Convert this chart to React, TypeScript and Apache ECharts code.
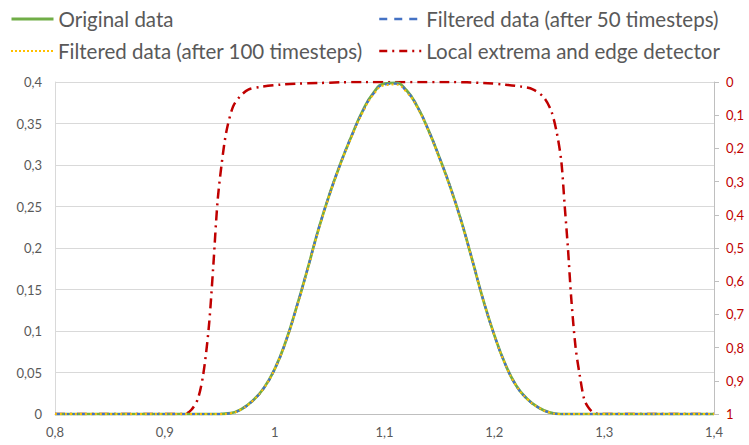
import React, { useEffect, useRef } from "react";
import * as echarts from "echarts";

// x positions shared by the three "bump" series
const bumpX = [
  0.8, 0.85, 0.9, 0.95, 0.96, 0.97, 0.98, 0.99, 1.0, 1.01, 1.02, 1.03, 1.04, 1.05, 1.06, 1.07, 1.08, 1.09,
  1.1, 1.11, 1.12, 1.13, 1.14, 1.15, 1.16, 1.17, 1.18, 1.19, 1.2, 1.21, 1.22, 1.23, 1.24, 1.25, 1.26,
  1.3, 1.35, 1.4,
];
const originalData = [
  0, 0, 0, 0, 0.001, 0.006, 0.016, 0.031, 0.054, 0.087, 0.129, 0.175, 0.223, 0.265, 0.302, 0.335, 0.365, 0.387,
  0.398, 0.399, 0.39, 0.37, 0.342, 0.309, 0.273, 0.232, 0.185, 0.137, 0.095, 0.06, 0.034, 0.018, 0.008, 0.002, 0,
  0, 0, 0,
];
const filtered50 = [
  0, 0, 0, 0, 0.001, 0.006, 0.016, 0.031, 0.054, 0.087, 0.129, 0.175, 0.223, 0.265, 0.302, 0.335, 0.364, 0.386,
  0.397, 0.398, 0.389, 0.37, 0.342, 0.309, 0.273, 0.232, 0.185, 0.137, 0.095, 0.06, 0.034, 0.018, 0.008, 0.002, 0,
  0, 0, 0,
];
const filtered100 = [
  0, 0, 0, 0, 0.001, 0.006, 0.016, 0.031, 0.054, 0.087, 0.128, 0.174, 0.222, 0.264, 0.301, 0.334, 0.363, 0.385,
  0.396, 0.397, 0.388, 0.369, 0.341, 0.308, 0.272, 0.231, 0.185, 0.137, 0.095, 0.06, 0.034, 0.018, 0.008, 0.002, 0,
  0, 0, 0,
];

// local extrema and edge detector (right axis, inverted)
const detectorX = [
  0.8, 0.9, 0.918, 0.924, 0.93, 0.935, 0.94, 0.944, 0.948, 0.952, 0.956, 0.962, 0.968, 0.976, 0.987, 1.005, 1.02,
  1.04, 1.06, 1.08, 1.16, 1.19, 1.21, 1.225, 1.235, 1.245, 1.252, 1.257, 1.261, 1.264, 1.267, 1.27, 1.274, 1.278,
  1.282, 1.286, 1.29, 1.295, 1.35, 1.4,
];
const detectorData = [
  1, 1, 1, 0.988, 0.955, 0.88, 0.74, 0.56, 0.36, 0.24, 0.15, 0.075, 0.045, 0.023, 0.015, 0.008, 0.005,
  0.003, 0.001, 0, 0, 0.003, 0.008, 0.014, 0.022, 0.046, 0.089, 0.155, 0.24, 0.37, 0.5, 0.65, 0.8, 0.888,
  0.958, 0.982, 0.995, 1, 1, 1,
];

const seriesNames = [
  "Original data",
  "Filtered data (after 50 timesteps)",
  "Filtered data (after 100 timesteps)",
  "Local extrema and edge detector",
];

const fmt = (v: number) => Number(v.toFixed(4)).toString().replace(".", ",");
const pairs = (xs: number[], ys: number[]) => xs.map((x, i) => [x, ys[i]]);

export default function App() {
  const ref = useRef<HTMLDivElement>(null);
  useEffect(() => {
    if (!ref.current) return;
    const chart = echarts.init(ref.current, undefined, { renderer: "svg" });
    const font = "Lato, 'Liberation Sans', sans-serif";
    const legendText = { color: "#595959", fontSize: 20.5, fontFamily: font, lineHeight: 22 };
    const legendBase = {
      itemWidth: 42,
      itemHeight: 14,
      textStyle: legendText,
      padding: 0,
      selectedMode: false,
      itemStyle: { opacity: 0 },
    };
    chart.setOption({
      animation: false,
      backgroundColor: "#ffffff",
      textStyle: { fontFamily: font },
      legend: [
        { ...legendBase, data: [seriesNames[0]], left: 10, top: 8, lineStyle: { width: 3 } },
        { ...legendBase, data: [seriesNames[1]], left: 378, top: 8, lineStyle: { width: 2.5, type: [8, 7] } },
        { ...legendBase, data: [seriesNames[2]], left: 10, top: 40, lineStyle: { width: 2, type: [2, 2] } },
        { ...legendBase, data: [seriesNames[3]], left: 378, top: 40, lineStyle: { width: 2.5, type: [8, 5, 2, 5] } },
      ],
      grid: { left: 55, right: 35, top: 82, bottom: 31, containLabel: false, outerBoundsMode: "none" },
      xAxis: {
        type: "value",
        min: 0.8,
        max: 1.4,
        interval: 0.1,
        axisLine: { show: true, lineStyle: { color: "#bfbfbf", width: 1 } },
        axisTick: { show: false },
        splitLine: { show: false },
        axisLabel: { color: "#595959", fontSize: 13, fontFamily: font, margin: 11, formatter: fmt },
      },
      yAxis: [
        {
          type: "value",
          min: 0,
          max: 0.4,
          interval: 0.05,
          axisLine: { show: true, lineStyle: { color: "#d9d9d9", width: 1 } },
          axisTick: { show: false },
          splitLine: { show: true, lineStyle: { color: "#d9d9d9", width: 1 } },
          axisLabel: { color: "#595959", fontSize: 13, fontFamily: font, margin: 13, formatter: fmt },
        },
        {
          type: "value",
          min: 0,
          max: 1,
          interval: 0.1,
          inverse: true,
          position: "right",
          axisLine: { show: true, lineStyle: { color: "#bfbfbf", width: 1 } },
          axisTick: { show: true, length: 5, lineStyle: { color: "#bfbfbf" } },
          splitLine: { show: false },
          axisLabel: { color: "#c00000", fontSize: 13, fontFamily: font, margin: 12, formatter: fmt },
        },
      ],
      series: [
        {
          name: seriesNames[3],
          type: "line",
          yAxisIndex: 1,
          data: pairs(detectorX, detectorData),
          showSymbol: false,
          symbol: "none",
          smooth: 0.3,
          lineStyle: { color: "#c00000", width: 2.5, type: [10, 5, 2, 5] },
          itemStyle: { color: "#c00000" },
          z: 2,
        },
        {
          name: seriesNames[0],
          type: "line",
          data: pairs(bumpX, originalData),
          showSymbol: false,
          symbol: "none",
          smooth: 0.5,
          lineStyle: { color: "#70ad47", width: 2.75, type: "solid" },
          itemStyle: { color: "#70ad47" },
          z: 3,
        },
        {
          name: seriesNames[1],
          type: "line",
          data: pairs(bumpX, filtered50),
          showSymbol: false,
          symbol: "none",
          smooth: 0.5,
          lineStyle: { color: "#4472c4", width: 2.25, type: [5, 4] },
          itemStyle: { color: "#4472c4" },
          z: 4,
        },
        {
          name: seriesNames[2],
          type: "line",
          data: pairs(bumpX, filtered100),
          showSymbol: false,
          symbol: "none",
          smooth: 0.5,
          lineStyle: { color: "#ffc000", width: 2, type: [2, 3] },
          itemStyle: { color: "#ffc000" },
          z: 5,
        },
      ],
    });
    return () => chart.dispose();
  }, []);
  return (
    <div
      ref={ref}
      style={{ position: "fixed", left: 0, top: 0, width: 749, height: 445, background: "#fff" }}
    />
  );
}
